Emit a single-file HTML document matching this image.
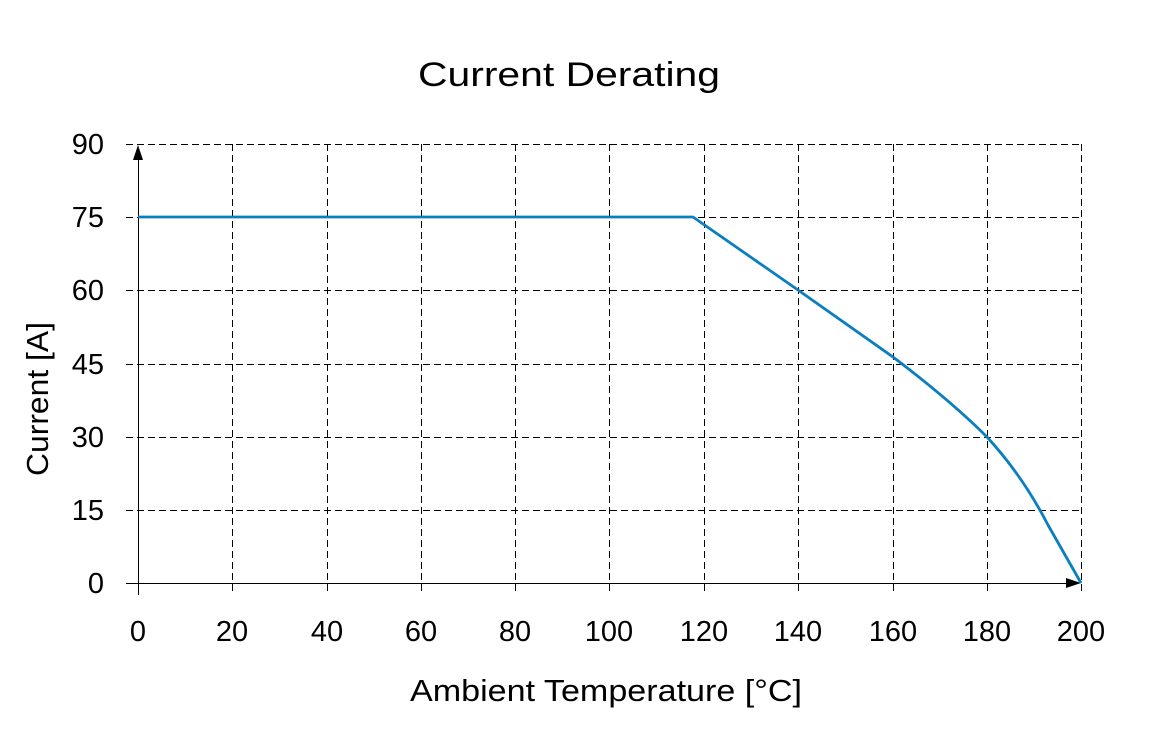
<!DOCTYPE html>
<html><head><style>body{margin:0;background:#fff}svg{display:block}</style></head><body>
<svg width="1162" height="751" xmlns="http://www.w3.org/2000/svg" font-family="'Liberation Sans',sans-serif">
<rect width="1162" height="751" fill="#fff"/>
<g stroke="#000" stroke-width="1.2" stroke-dasharray="7,4" fill="none" shape-rendering="crispEdges">
<line x1="126" y1="144.5" x2="1081" y2="144.5"/>
<line x1="126" y1="217.5" x2="1081" y2="217.5"/>
<line x1="126" y1="290.5" x2="1081" y2="290.5"/>
<line x1="126" y1="364.5" x2="1081" y2="364.5"/>
<line x1="126" y1="437.5" x2="1081" y2="437.5"/>
<line x1="126" y1="510.5" x2="1081" y2="510.5"/>
<line x1="232.5" y1="144" x2="232.5" y2="595"/>
<line x1="327.5" y1="144" x2="327.5" y2="595"/>
<line x1="421.5" y1="144" x2="421.5" y2="595"/>
<line x1="515.5" y1="144" x2="515.5" y2="595"/>
<line x1="609.5" y1="144" x2="609.5" y2="595"/>
<line x1="704.5" y1="144" x2="704.5" y2="595"/>
<line x1="798.5" y1="144" x2="798.5" y2="595"/>
<line x1="893.5" y1="144" x2="893.5" y2="595"/>
<line x1="987.5" y1="144" x2="987.5" y2="595"/>
<line x1="1081.5" y1="144" x2="1081.5" y2="595"/>
</g>
<g stroke="#000" stroke-width="1.3" shape-rendering="crispEdges">
<line x1="138.5" y1="155" x2="138.5" y2="595"/>
<line x1="126" y1="583.5" x2="1070" y2="583.5"/>
</g>
<polygon points="138,145 133,160 143,160" fill="#000"/>
<polygon points="1081,583 1066,578 1066,588" fill="#000"/>
<path d="M138,217 L693,217 L798,290 L893,357 C930,385 960,410 987,437 C1010,462 1030,490 1048,525 L1081,583" fill="none" stroke="#0a7fbf" stroke-width="2.8" stroke-linejoin="round"/>
<g font-size="29" fill="#000" text-anchor="end">
<text x="104" y="154">90</text><text x="104" y="227">75</text><text x="104" y="300">60</text>
<text x="104" y="374">45</text><text x="104" y="447">30</text><text x="104" y="520">15</text><text x="104" y="593">0</text>
</g>
<g font-size="29" fill="#000" text-anchor="middle">
<text x="138" y="641">0</text><text x="232" y="641">20</text><text x="327" y="641">40</text><text x="421" y="641">60</text>
<text x="515" y="641">80</text><text x="609" y="641">100</text><text x="704" y="641">120</text><text x="798" y="641">140</text>
<text x="893" y="641">160</text><text x="987" y="641">180</text><text x="1081" y="641">200</text>
</g>
<text x="418" y="86" font-size="34" textLength="302" lengthAdjust="spacingAndGlyphs">Current Derating</text>
<text x="410" y="701" font-size="31" textLength="392" lengthAdjust="spacingAndGlyphs">Ambient Temperature [°C]</text>
<text transform="translate(48,476) rotate(-90)" font-size="31" textLength="154" lengthAdjust="spacingAndGlyphs">Current [A]</text>
</svg>
</body></html>
